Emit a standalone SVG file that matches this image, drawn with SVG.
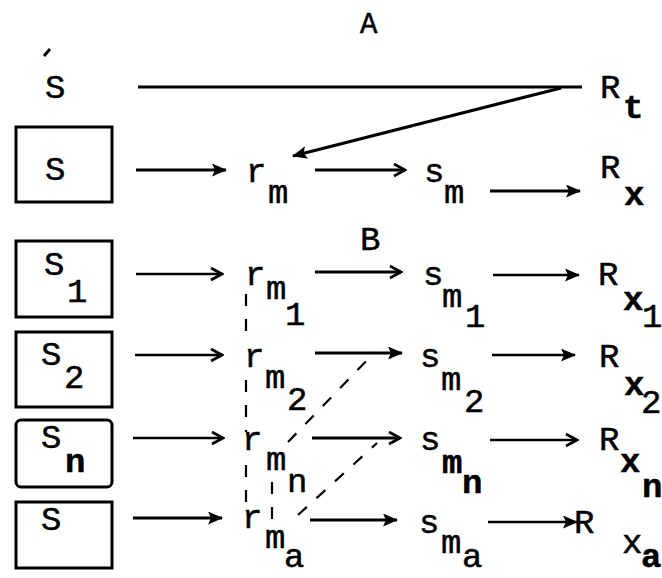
<svg xmlns="http://www.w3.org/2000/svg" width="662" height="578" viewBox="0 0 662 578">
<style>
.t{font-family:"Liberation Mono","DejaVu Sans Mono",monospace;font-size:34px;fill:#000;stroke:#000;stroke-width:0.5}
.b{font-weight:bold}
.box{fill:none;stroke:#000;stroke-width:3}
.ar{fill:none;stroke:#000;stroke-width:3.2}
.thin{stroke-width:2.6}
.dash{fill:none;stroke:#000;stroke-width:2.2;stroke-dasharray:12 13}
</style>
<defs>
<marker id="fh" markerUnits="userSpaceOnUse" markerWidth="15" markerHeight="13" refX="14" refY="6.5" orient="auto">
<path d="M0,0 L15,6.5 L0,13 L3,6.5 z" fill="#000"/>
</marker>
<marker id="ch" markerUnits="userSpaceOnUse" markerWidth="15" markerHeight="15" refX="13" refY="7.5" orient="auto">
<path d="M2,1.5 L13,7.5 L2,13.5" fill="none" stroke="#000" stroke-width="2.8"/>
</marker>
</defs>

<g id="connectors">
<line x1="138" y1="87" x2="582" y2="87" class="ar"/>
<line x1="561" y1="88" x2="293" y2="156" class="ar" marker-end="url(#fh)"/>
<line x1="136" y1="170" x2="226" y2="170" class="ar" marker-end="url(#fh)"/>
<line x1="315" y1="170" x2="405" y2="170" class="ar" marker-end="url(#ch)"/>
<line x1="490" y1="191" x2="580" y2="191" class="ar" marker-end="url(#fh)"/>
<line x1="136" y1="274" x2="222" y2="274" class="ar thin" marker-end="url(#ch)"/>
<line x1="315" y1="272" x2="401" y2="272" class="ar" marker-end="url(#ch)"/>
<line x1="493" y1="275" x2="579" y2="275" class="ar thin" marker-end="url(#fh)"/>
<line x1="135" y1="355" x2="222" y2="355" class="ar thin" marker-end="url(#ch)"/>
<line x1="315" y1="353" x2="402" y2="353" class="ar" marker-end="url(#fh)"/>
<line x1="492" y1="355" x2="575" y2="355" class="ar thin" marker-end="url(#fh)"/>
<line x1="133" y1="438" x2="223" y2="438" class="ar thin" marker-end="url(#ch)"/>
<line x1="312" y1="438" x2="400" y2="438" class="ar" marker-end="url(#ch)"/>
<line x1="490" y1="440" x2="577" y2="440" class="ar thin" marker-end="url(#ch)"/>
<line x1="133" y1="518" x2="222" y2="518" class="ar" marker-end="url(#fh)"/>
<line x1="310" y1="520" x2="397" y2="520" class="ar" marker-end="url(#fh)"/>
<line x1="488" y1="522" x2="577" y2="522" class="ar thin" marker-end="url(#fh)"/>
<line x1="246" y1="294" x2="246" y2="340" class="dash"/>
<line x1="246" y1="380" x2="246" y2="432" class="dash"/>
<line x1="246" y1="465" x2="246" y2="508" class="dash"/>
<line x1="272" y1="482" x2="272" y2="520" class="dash"/>
<line x1="288" y1="442" x2="375" y2="352" class="dash"/>
<line x1="298" y1="515" x2="377" y2="443" class="dash"/>
</g>

<g id="s_prime">
<line x1="44" y1="56" x2="50" y2="49" stroke="#000" stroke-width="2.8"/>
<text class="t" x="45" y="98">S</text>
</g>
<g id="label_A"><text class="t" style="font-size:29px" x="360" y="33">A</text></g>
<g id="R_t"><text class="t" x="600" y="98">R</text><text class="t b" x="623" y="118">t</text></g>

<g id="box_S">
<rect class="box" x="16" y="127" width="96" height="75"/>
<text class="t" x="45" y="180">S</text>
</g>
<g id="r_m"><text class="t" x="246" y="182">r</text><text class="t" x="268" y="203">m</text></g>
<g id="s_m"><text class="t" x="424" y="182">s</text><text class="t" x="444" y="203">m</text></g>
<g id="R_x"><text class="t" x="600" y="178">R</text><text class="t b" x="624" y="205">x</text></g>

<g id="label_B"><text class="t" x="360" y="250">B</text></g>

<g id="box_S1">
<rect class="box" x="16" y="241" width="96" height="76"/>
<text class="t" x="44" y="275">S</text><text class="t" x="67" y="302">1</text>
</g>
<g id="r_m1"><text class="t" x="245" y="285">r</text><text class="t" x="266" y="299">m</text><text class="t" x="285" y="325">1</text></g>
<g id="s_m1"><text class="t" x="423" y="285">s</text><text class="t" x="442" y="307">m</text><text class="t" x="465" y="327">1</text></g>
<g id="R_x1"><text class="t" x="598" y="285">R</text><text class="t b" x="623" y="310">x</text><text class="t" x="642" y="327">1</text></g>

<g id="box_S2">
<rect class="box" x="16" y="332" width="96" height="75"/>
<text class="t" x="41" y="365">S</text><text class="t" x="64" y="388">2</text>
</g>
<g id="r_m2"><text class="t" x="244" y="367">r</text><text class="t" x="265" y="388">m</text><text class="t" x="287" y="410">2</text></g>
<g id="s_m2"><text class="t" x="420" y="367">s</text><text class="t" x="441" y="390">m</text><text class="t" x="464" y="412">2</text></g>
<g id="R_x2"><text class="t" x="599" y="367">R</text><text class="t b" x="624" y="395">x</text><text class="t" x="641" y="413">2</text></g>

<g id="box_Sn">
<rect class="box" x="16" y="420" width="96" height="67" rx="5"/>
<text class="t" x="41" y="448">S</text><text class="t b" x="65" y="472">n</text>
</g>
<g id="r_mn"><text class="t" x="242" y="450">r</text><text class="t" x="266" y="470">m</text><text class="t" x="287" y="492">n</text></g>
<g id="s_mn"><text class="t" x="420" y="450">s</text><text class="t b" x="442" y="473">m</text><text class="t b" x="462" y="493">n</text></g>
<g id="R_xn"><text class="t" x="599" y="450">R</text><text class="t b" x="620" y="472">x</text><text class="t b" x="642" y="497">n</text></g>

<g id="box_Sa">
<rect class="box" x="16" y="502" width="96" height="66"/>
<text class="t" x="41" y="530">S</text>
</g>
<g id="r_ma"><text class="t" x="242" y="528">r</text><text class="t" x="265" y="548">m</text><text class="t" x="284" y="567">a</text></g>
<g id="s_ma"><text class="t" x="419" y="533">s</text><text class="t" x="441" y="553">m</text><text class="t" x="462" y="567">a</text></g>
<g id="R_xa"><text class="t" x="574" y="533">R</text><text class="t" x="622" y="553">x</text><text class="t b" x="641" y="567">a</text></g>
</svg>
